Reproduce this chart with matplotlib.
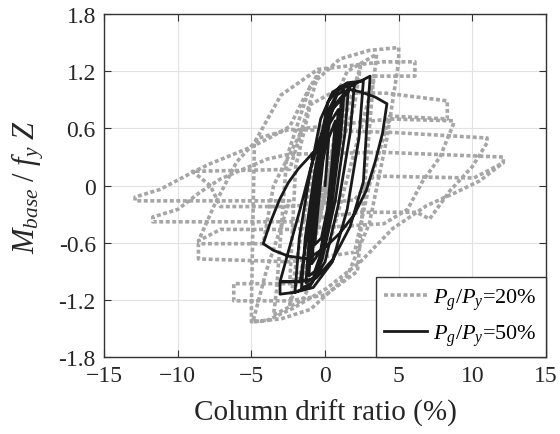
import matplotlib
matplotlib.use("Agg")
import matplotlib.pyplot as plt

# drift ratio (%) and normalized base moment
gray_path = [
    (0.0, 0.0),
    (1.0, 0.80), (0.7, 0.40), (-1.0, -0.80), (-0.7, -0.40),
    (1.6, 1.05), (1.2, 0.60), (-1.6, -1.05), (-1.2, -0.60),
    (2.4, 1.25), (2.0, 0.85), (-2.4, -1.25), (-2.0, -0.85),
    (-0.5, 0.50), (1.5, 1.20), (3.5, 1.38), (3.3, 1.10),
    (0.5, -0.50), (-1.5, -1.20), (-3.5, -1.36), (-3.3, -1.10),
    (-2.6, 0.30), (-1.0, 1.05), (1.0, 1.33), (3.0, 1.42), (5.0, 1.45), (5.0, 1.30),
    (4.2, 0.50), (3.0, -0.40), (1.5, -0.95), (-1.0, -1.30), (-3.0, -1.40), (-5.0, -1.43), (-5.0, -1.25),
    (-4.8, 0.45), (-3.0, 0.95), (-0.5, 1.22), (3.9, 1.30), (6.1, 1.30), (6.1, 1.15), (3.3, 1.15),
    (2.8, 0.20), (2.2, -0.90), (0.0, -1.15), (-2.4, -1.21), (-6.2, -1.21), (-6.2, -1.03), (-2.4, -1.03),
    (-2.0, 0.20), (-1.0, 0.85), (0.5, 0.98), (4.2, 0.97), (8.3, 0.89), (8.3, 0.70), (4.4, 0.73),
    (3.0, 0.00), (2.0, -0.70), (-2.4, -0.80), (-8.6, -0.77), (-8.6, -0.61), (-4.2, -0.61),
    (-3.5, 0.00), (-1.5, 0.60), (4.4, 0.70), (8.7, 0.68), (8.7, 0.64),
    (7.8, 0.30), (6.6, 0.04), (5.6, -0.25), (4.0, -0.40), (-2.4, -0.46), (-7.1, -0.46), (-8.6, -0.58),
    (-7.5, -0.20), (-6.0, 0.25), (-4.5, 0.50), (-2.4, 0.59), (0.0, 0.58), (4.4, 0.56),
    (11.0, 0.50), (11.0, 0.45), (10.0, 0.20), (8.5, -0.05), (7.1, -0.35), (6.2, -0.28), (2.4, -0.28),
    (-2.4, -0.38), (-11.7, -0.38), (-11.7, -0.33), (-10.0, -0.25), (-8.5, -0.07), (-7.1, 0.07),
    (-5.6, 0.17), (-3.9, 0.28), (-2.4, 0.33), (3.9, 0.35), (12.1, 0.30), (12.1, 0.24),
    (10.1, 0.08), (3.3, 0.10), (2.0, -0.15), (-2.4, -0.22), (-7.1, -0.22), (-7.8, 0.00),
    (-9.0, 0.15), (-2.4, 0.17), (-0.4, 1.20), (-1.5, 0.90), (-2.4, 0.62), (-3.9, 0.49),
    (-5.1, 0.40), (-6.2, 0.33), (-7.8, 0.23), (-9.0, 0.14), (-11.2, -0.04), (-12.9, -0.12),
    (-12.9, -0.16), (-2.4, -0.16), (-4.0, -0.90), (-4.9, -1.43), (-4.0, -1.42), (-2.2, -1.29),
    (0.1, -1.08), (2.4, -0.80), (4.6, -0.45), (6.9, -0.21), (8.9, -0.07), (10.5, 0.05), (12.1, 0.24),
]

black_path = [
    (0.0, 0.0),
    (0.25, 0.50), (0.7, 0.68), (0.45, 0.20), (0.15, -0.25), (-0.25, -0.55), (-0.7, -0.62), (-0.45, -0.20), (-0.15, 0.25),
    (0.3, 0.65), (0.9, 0.80), (0.65, 0.30), (0.2, -0.25), (-0.3, -0.68), (-0.9, -0.82), (-0.65, -0.30), (-0.2, 0.25),
    (0.3, 0.72), (0.7, 0.86), (1.1, 0.90), (0.85, 0.40), (0.3, -0.20), (-0.3, -0.72), (-0.7, -0.90), (-1.1, -0.95),
    (-0.85, -0.40), (-0.3, 0.20),
    (0.2, 0.72), (0.8, 0.95), (1.3, 1.00), (1.05, 0.50), (0.5, -0.15), (-0.2, -0.72), (-0.8, -0.97), (-1.3, -1.02),
    (-1.05, -0.50), (-0.5, 0.15),
    (0.2, 0.78), (0.9, 1.00), (1.6, 1.05), (1.35, 0.55), (0.7, -0.15), (-0.2, -0.78), (-0.9, -1.02), (-1.6, -1.08),
    (-1.35, -0.55), (-0.7, 0.15),
    (0.2, 0.88), (1.0, 1.04), (2.0, 1.08), (1.7, 0.55), (0.9, -0.20), (0.0, -0.80), (-1.0, -1.05), (-2.04, -1.12),
    (-1.75, -0.55), (-1.0, 0.15),
    (-0.3, 0.70), (0.5, 0.98), (1.5, 1.08), (2.6, 1.10), (2.3, 0.50), (1.5, -0.25), (0.5, -0.80), (-0.8, -1.07),
    (-2.04, -1.12), (-3.06, -1.14), (-3.06, -1.01),
    (-2.4, -0.64), (-1.7, -0.25), (-1.0, 0.17), (-0.3, 0.52), (0.55, 0.83), (1.7, 1.04), (3.06, 1.15),
    (2.9, 0.80), (2.6, 0.04), (1.7, -0.43), (0.55, -0.77), (-0.6, -0.97), (-1.7, -1.01), (-3.0, -1.01),
    (-1.7, -1.01), (-1.2, -0.50), (-0.5, 0.20), (0.5, 0.80), (1.7, 1.01),
    (2.5, 0.98), (3.4, 0.93), (4.2, 0.86), (3.9, 0.55), (3.4, 0.25), (2.8, -0.05), (2.0, -0.30),
    (1.0, -0.50), (0.0, -0.65), (-1.2, -0.77), (-2.5, -0.74), (-3.5, -0.68), (-4.2, -0.61),
    (-3.7, -0.38), (-3.1, -0.15), (-2.5, 0.03), (-1.8, 0.18), (-1.2, 0.28), (-0.8, 0.35), (-0.9, 0.28),
]

x_ticks = [-15, -10, -5, 0, 5, 10, 15]
y_ticks = [-1.8, -1.2, -0.6, 0, 0.6, 1.2, 1.8]
y_tick_labels = ['-1.8', '-1.2', '-0.6', '0', '0.6', '1.2', '1.8']

plt.rcParams['font.family'] = 'Liberation Serif'
plt.rcParams['mathtext.fontset'] = 'custom'
plt.rcParams['mathtext.rm'] = 'Liberation Serif'
plt.rcParams['mathtext.it'] = 'Liberation Serif:italic'

fig = plt.figure(figsize=(5.6, 4.35), dpi=100)
ax = fig.add_axes([0.186, 0.177, 0.789, 0.788])

gx, gy = zip(*gray_path)
bx, by = zip(*black_path)
ax.plot(gx, gy, color='#a6a6a6', lw=2.6, ls=(0, (1.1, 0.7)), label=r'$P_g/P_y$=20%')
ax.plot(bx, by, color='#1a1a1a', lw=2.0, label=r'$P_g/P_y$=50%')

ax.set_xlim(-15, 15)
ax.set_ylim(-1.8, 1.8)
ax.set_xticks(x_ticks)
ax.set_yticks(y_ticks)
ax.set_yticklabels(y_tick_labels)
ax.tick_params(direction='in', top=True, right=True, labelsize=17, length=5, pad=6,
               colors='#333333', labelcolor='#262626')
ax.grid(True, color='#e2e2e2', lw=0.8)
ax.set_axisbelow(True)
for s in ax.spines.values():
    s.set_color('#333333')
    s.set_linewidth(1.0)

ax.set_xlabel('Column drift ratio (%)', fontsize=21, color='#262626', labelpad=9)
ax.set_ylabel(r'$M_{base}\ /\ f_y\ Z$', fontsize=22, color='#262626', labelpad=9)

leg = ax.legend(loc='lower right', borderaxespad=0, fontsize=16, fancybox=False,
                framealpha=1, edgecolor='#333333', handlelength=1.9, handletextpad=0.3)
leg.get_frame().set_linewidth(1.0)

fig.savefig('out.png', dpi=100)
